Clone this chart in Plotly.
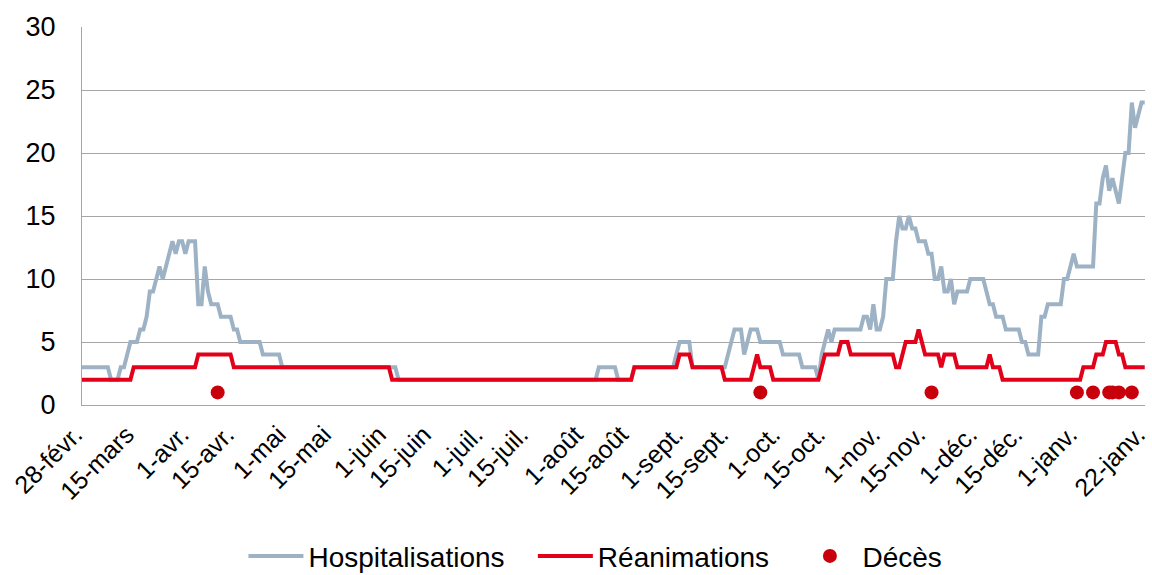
import pandas as pd
import plotly.graph_objects as go

# Daily dates: 28 Feb 2020 -> 22 Jan 2021
dates = pd.date_range("2020-02-28", "2021-01-22", freq="D")

hospitalisations = [
    3, 3, 3, 3, 3, 3, 3, 3, 3, 2,
    2, 2, 3, 3, 4, 5, 5, 5, 6, 6,
    7, 9, 9, 10, 11, 10, 11, 12, 13, 12,
    13, 13, 12, 13, 13, 13, 8, 8, 11, 9,
    8, 8, 8, 7, 7, 7, 7, 6, 6, 5,
    5, 5, 5, 5, 5, 5, 4, 4, 4, 4,
    4, 4, 3, 3, 3, 3, 3, 3, 3, 3,
    3, 3, 3, 3, 3, 3, 3, 3, 3, 3,
    3, 3, 3, 3, 3, 3, 3, 3, 3, 3,
    3, 3, 3, 3, 3, 3, 3, 3, 2, 2,
    2, 2, 2, 2, 2, 2, 2, 2, 2, 2,
    2, 2, 2, 2, 2, 2, 2, 2, 2, 2,
    2, 2, 2, 2, 2, 2, 2, 2, 2, 2,
    2, 2, 2, 2, 2, 2, 2, 2, 2, 2,
    2, 2, 2, 2, 2, 2, 2, 2, 2, 2,
    2, 2, 2, 2, 2, 2, 2, 2, 2, 2,
    3, 3, 3, 3, 3, 3, 2, 2, 2, 2,
    2, 3, 3, 3, 3, 3, 3, 3, 3, 3,
    3, 3, 3, 3, 4, 5, 5, 5, 5, 3,
    3, 3, 3, 3, 3, 3, 3, 3, 3, 3,
    4, 5, 6, 6, 6, 4, 5, 6, 6, 6,
    5, 5, 5, 5, 5, 5, 5, 4, 4, 4,
    4, 4, 4, 3, 3, 3, 3, 3, 2, 4,
    5, 6, 5, 6, 6, 6, 6, 6, 6, 6,
    6, 6, 7, 7, 6, 8, 6, 6, 7, 10,
    10, 10, 13, 15, 14, 14, 15, 14, 14, 13,
    13, 13, 12, 12, 10, 10, 11, 9, 9, 10,
    8, 9, 9, 9, 9, 10, 10, 10, 10, 10,
    9, 8, 8, 7, 7, 7, 6, 6, 6, 6,
    6, 5, 5, 4, 4, 4, 4, 7, 7, 8,
    8, 8, 8, 8, 10, 10, 11, 12, 11, 11,
    11, 11, 11, 11, 16, 16, 18, 19, 17, 18,
    17, 16, 18, 20, 20, 24, 22, 23, 24, 24,
]

reanimations = [
    2, 2, 2, 2, 2, 2, 2, 2, 2, 2,
    2, 2, 2, 2, 2, 2, 3, 3, 3, 3,
    3, 3, 3, 3, 3, 3, 3, 3, 3, 3,
    3, 3, 3, 3, 3, 3, 4, 4, 4, 4,
    4, 4, 4, 4, 4, 4, 4, 3, 3, 3,
    3, 3, 3, 3, 3, 3, 3, 3, 3, 3,
    3, 3, 3, 3, 3, 3, 3, 3, 3, 3,
    3, 3, 3, 3, 3, 3, 3, 3, 3, 3,
    3, 3, 3, 3, 3, 3, 3, 3, 3, 3,
    3, 3, 3, 3, 3, 3, 2, 2, 2, 2,
    2, 2, 2, 2, 2, 2, 2, 2, 2, 2,
    2, 2, 2, 2, 2, 2, 2, 2, 2, 2,
    2, 2, 2, 2, 2, 2, 2, 2, 2, 2,
    2, 2, 2, 2, 2, 2, 2, 2, 2, 2,
    2, 2, 2, 2, 2, 2, 2, 2, 2, 2,
    2, 2, 2, 2, 2, 2, 2, 2, 2, 2,
    2, 2, 2, 2, 2, 2, 2, 2, 2, 2,
    2, 3, 3, 3, 3, 3, 3, 3, 3, 3,
    3, 3, 3, 3, 3, 4, 4, 4, 4, 3,
    3, 3, 3, 3, 3, 3, 3, 3, 3, 2,
    2, 2, 2, 2, 2, 2, 2, 2, 3, 4,
    3, 3, 3, 3, 2, 2, 2, 2, 2, 2,
    2, 2, 2, 2, 2, 2, 2, 2, 2, 3,
    4, 4, 4, 4, 4, 5, 5, 5, 4, 4,
    4, 4, 4, 4, 4, 4, 4, 4, 4, 4,
    4, 4, 3, 3, 4, 5, 5, 5, 5, 6,
    5, 4, 4, 4, 4, 4, 3, 4, 4, 4,
    4, 3, 3, 3, 3, 3, 3, 3, 3, 3,
    3, 4, 3, 3, 3, 2, 2, 2, 2, 2,
    2, 2, 2, 2, 2, 2, 2, 2, 2, 2,
    2, 2, 2, 2, 2, 2, 2, 2, 2, 2,
    3, 3, 3, 3, 4, 4, 4, 5, 5, 5,
    5, 4, 4, 3, 3, 3, 3, 3, 3, 3,
]

deces_dates = ["2020-04-10", "2020-09-25", "2020-11-17", "2021-01-01", "2021-01-06",
               "2021-01-11", "2021-01-12", "2021-01-14", "2021-01-18"]
deces_values = [1, 1, 1, 1, 1, 1, 1, 1, 1]

tick_dates = ["2020-02-28", "2020-03-15", "2020-04-01", "2020-04-15", "2020-05-01",
              "2020-05-15", "2020-06-01", "2020-06-15", "2020-07-01", "2020-07-15",
              "2020-08-01", "2020-08-15", "2020-09-01", "2020-09-15", "2020-10-01",
              "2020-10-15", "2020-11-01", "2020-11-15", "2020-12-01", "2020-12-15",
              "2021-01-01", "2021-01-22"]
tick_labels = ["28-févr.", "15-mars", "1-avr.", "15-avr.", "1-mai", "15-mai", "1-juin",
               "15-juin", "1-juil.", "15-juil.", "1-août", "15-août", "1-sept.",
               "15-sept.", "1-oct.", "15-oct.", "1-nov.", "15-nov.", "1-déc.",
               "15-déc.", "1-janv.", "22-janv."]

FONT = "Liberation Sans, Arial, Helvetica, sans-serif"
GRID = "#A6A6A6"
PAD = "\u00a0\u00a0\u00a0"  # extra spacing after legend entries

fig = go.Figure()
fig.add_trace(go.Scatter(x=dates, y=hospitalisations, mode="lines", name="Hospitalisations" + PAD,
                         line=dict(color="#9DB2C5", width=4)))
fig.add_trace(go.Scatter(x=dates, y=reanimations, mode="lines", name="Réanimations" + PAD,
                         line=dict(color="#E2001A", width=4)))
fig.add_trace(go.Scatter(x=pd.to_datetime(deces_dates), y=deces_values, mode="markers",
                         name="Décès", marker=dict(color="#C8000B", size=14)))

fig.update_layout(
    width=1152, height=575,
    margin=dict(l=82, r=7, t=27, b=170, autoexpand=False),
    paper_bgcolor="white", plot_bgcolor="white",
    font=dict(family=FONT, size=27, color="black"),
    showlegend=True,
    legend=dict(orientation="h", x=0.483, xanchor="center", y=-0.40, yanchor="middle",
                font=dict(size=28, color="black"), itemwidth=55, tracegroupgap=0),
    xaxis=dict(
        type="date",
        range=["2020-02-28", "2021-01-22 02:00"],
        tickmode="array", tickvals=tick_dates, ticktext=tick_labels,
        tickangle=-45, tickfont=dict(size=25),
        showgrid=False, showline=True, linecolor=GRID, linewidth=1,
        ticks="", zeroline=False, ticklabelstandoff=4, ticklabelshift=-7,
        automargin=False, ticklabeloverflow="allow",
    ),
    yaxis=dict(
        range=[0, 30], dtick=5, tick0=0,
        showgrid=True, gridcolor=GRID, gridwidth=1,
        showline=True, linecolor=GRID, linewidth=1,
        ticks="", zeroline=False, tickfont=dict(size=27),
        ticklabelstandoff=20, automargin=False,
    ),
)

fig.write_html("out.html", config={"displayModeBar": False},
               post_script="document.body.style.margin='0';document.body.style.padding='0';")
